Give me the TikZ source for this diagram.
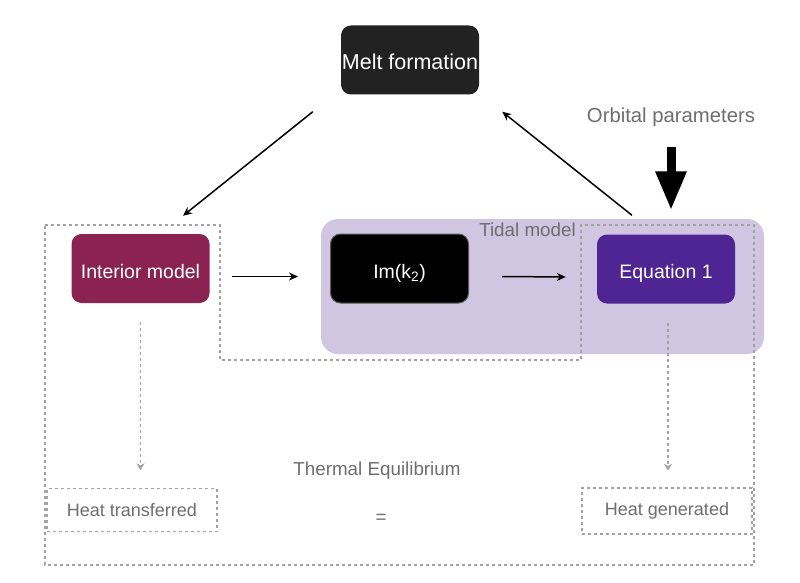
\documentclass[tikz,border=0pt]{standalone}
\usepackage{fontspec}
\setmainfont{Liberation Sans}
\usetikzlibrary{arrows.meta,calc}
\definecolor{interiorc}{HTML}{8B2352}
\definecolor{eqc}{HTML}{4F2594}
\definecolor{meltc}{HTML}{222222}
\definecolor{tidalc}{HTML}{D0C6E1}
\definecolor{greytext}{HTML}{6E6E6E}
\definecolor{dashgrey}{HTML}{A2A2A2}
\begin{document}
\begin{tikzpicture}[x=1pt,y=-1pt,
  box/.style={rounded corners=10pt, minimum width=138pt, minimum height=69pt, text=white,
    font=\fontsize{19.5}{21}\selectfont, inner sep=0pt, text height=19pt, text depth=0pt},
  dashline/.style={draw=dashgrey, line width=1.3pt, dash pattern=on 3pt off 3pt},
  dashbox/.style={dashline, minimum width=170pt, minimum height=43pt, inner sep=0pt,
    text=greytext, font=\fontsize{18}{20}\selectfont},
  greylabel/.style={text=greytext, inner sep=0pt, font=\fontsize{18.8}{20}\selectfont},
  flow/.style={draw=black, line width=1.5pt, -{Stealth[length=9pt,width=8pt]}},
  dasharrow/.style={dashline, line width=1.2pt, -{Stealth[length=7pt,width=8pt]}},
]
\useasboundingbox[fill=white] (0,0) rectangle (800,583);

% tidal model background
\node[fill=tidalc, rounded corners=17pt, minimum width=443pt, minimum height=135pt, inner sep=0pt]
  (tidal) at (542.5,286.5) {};

% dashed enclosing outline
\draw[dashline] (45,225) -- (220,225) -- (220,360) -- (581,360) -- (581,225) -- (754,225)
  -- (754,565) -- (45,565) -- cycle;

% boxes
\node[box, fill=meltc] (melt) at (410,60) {\fontsize{21.5}{23}\selectfont Melt formation};
\node[box, fill=interiorc] (interior) at (140.5,268.5) {Interior model};
\node[box, fill=black, draw=black!65, line width=1pt] (imk) at (399.5,268.5) {Im(k\textsubscript{2})};
\node[box, fill=eqc] (eq) at (666,269) {Equation 1};

% labels
\node[greylabel] (tidallbl) at (527.5,230) {Tidal model};
\node[greylabel, font=\fontsize{20.3}{22}\selectfont] (orbital) at (671,117) {Orbital parameters};
\node[greylabel] (thermal) at (377,471) {Thermal Equilibrium};
\node[greylabel] (eqsign) at (381,519) {=};

% heat boxes
\node[dashbox] (heatt) at (132,510) {Heat transferred};
\node[dashbox, minimum height=46pt] (heatg) at (667,511) {Heat generated};

% connectors
\draw[flow] ($(melt.south west)+(-28,17)$) -- ($(interior.north)+(42.5,-18)$);
\draw[flow] ($(eq.north)+(-34,-19)$) -- ($(melt.south east)+(23,17)$);
\draw[flow] ($(interior.east)+(22,8)$) -- ($(imk.west)+(-32,8)$);
\draw[flow] ($(imk.east)+(33,8)$) -- ($(eq.west)+(-31,8)$);

% thick orbital arrow
\coordinate (orbA) at ($(orbital.south)+(0,20)$);
\coordinate (orbB) at ($(eq.north)+(5,-24)$);
\draw[line width=9pt, -{Triangle[length=39pt,width=29pt]}] (orbA) -- (orbA |- orbB);

% dashed down arrows
\draw[dasharrow] ($(interior.south)+(0,19)$) -- ($(interior.south)+(0,167)$);
\draw[dasharrow] ($(eq.south)+(2,19)$) -- ($(eq.south)+(2,167)$);
\end{tikzpicture}
\end{document}
